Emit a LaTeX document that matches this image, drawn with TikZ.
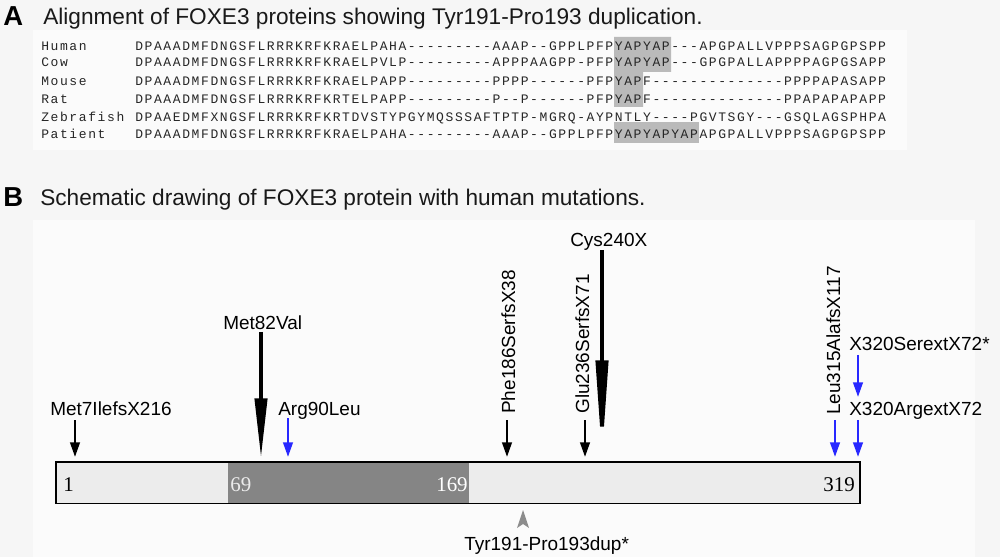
\documentclass[tikz,border=0pt]{standalone}
\usepackage{fontspec}
\setmainfont{Liberation Sans}
\newfontfamily\seqfont[LetterSpace=12.3]{Liberation Mono}
\newfontfamily\numfont{Liberation Serif}
\usetikzlibrary{arrows.meta}
\definecolor{pagebg}{RGB}{246,246,246}
\definecolor{panelbg}{RGB}{251,251,251}
\definecolor{mutblue}{RGB}{40,40,255}
\definecolor{bargray}{RGB}{236,236,236}
\definecolor{domgray}{RGB}{133,133,133}
\definecolor{hlgray}{RGB}{186,186,186}
\definecolor{tyrgray}{RGB}{140,140,140}

\begin{document}
\begin{tikzpicture}[x=0.025cm,y=-0.025cm,
        seqtext/.style={inner sep=0pt,anchor=base west,text=black!85,font=\seqfont\fontsize{9.25}{11}\selectfont},
        title/.style={inner sep=0pt,anchor=base west,text=black!90,font=\fontsize{16.1}{19}\selectfont},
        panel/.style={inner sep=0pt,anchor=base west,font=\bfseries\fontsize{19.5}{22}\selectfont},
        mutlabel/.style={inner sep=0pt,anchor=base west,font=\fontsize{13.5}{16}\selectfont},
        vlabel/.style={mutlabel,rotate=90},
        numlabel/.style={inner sep=0pt,font=\numfont\fontsize{14.9}{17}\selectfont},
        mut/.style={line width=2.1pt,shorten >=3.4pt,-{Triangle[length=10.5pt,width=6.6pt]}},
        bigmut/.style={line width=2.8pt,shorten >=2.6pt,-{Triangle[length=#1,width=8.6pt]}}
    ]
        \useasboundingbox (0,0) rectangle (1000,557);
        \fill[pagebg] (0,0) rectangle (1000,557);
        \fill[panelbg] (33,30) rectangle (907,150);
        \fill[panelbg] (33,220) rectangle (975,557);

        % A: alignment
        \node[panel] (pa) at (3,26) {A};
        \node[title] (ta) at (43,25) {Alignment of FOXE3 proteins showing Tyr191-Pro193 duplication.};
        \fill[hlgray] (614,37) -- (671,37) -- (671,72) -- (643,72) -- (643,107) -- (614,107) -- cycle;
        \fill[hlgray] (614,122) rectangle (699,143);
        \foreach \sp/\sq/\y [count=\i] in {
            Human/DPAAADMFDNGSFLRRRKRFKRAELPAHA---------AAAP--GPPLPFPYAPYAP---APGPALLVPPPSAGPGPSPP/50.3,
            Cow/DPAAADMFDNGSFLRRRKRFKRAELPVLP---------APPPAAGPP-PFPYAPYAP---GPGPALLAPPPPAGPGSAPP/66.3,
            Mouse/DPAAADMFDNGSFLRRRKRFKRAELPAPP---------PPPP------PFPYAPF--------------PPPPAPASAPP/85.3,
            Rat/DPAAADMFDNGSFLRRRKRFKRTELPAPP---------P--P------PFPYAPF--------------PPAPAPAPAPP/103.3,
            Zebrafish/DPAAEDMFXNGSFLRRRKRFKRTDVSTYPGYMQSSSAFTPTP-MGRQ-AYPNTLY----PGVTSGY---GSQLAGSPHPA/121.3,
            Patient/DPAAADMFDNGSFLRRRKRFKRAELPAHA---------AAAP--GPPLPFPYAPYAPYAPAPGPALLVPPPSAGPGPSPP/138.3}
        {
            \node[seqtext] (sp\i) at (41,\y) {\sp};
            \node[seqtext] (sq\i) at (135,\y) {\sq};
        }

        % B: protein scheme
        \node[panel] (pb) at (3,207) {B};
        \node[title] (tb) at (40,206) {Schematic drawing of FOXE3 protein with human mutations.};

        \node[fill=bargray,inner sep=0pt,minimum width=20.075cm,minimum height=1.025cm,anchor=north west] (bar) at (56,462) {};
        \fill[domgray] (228,462) rectangle (469,503);
        \draw[line width=1.2pt] (bar.north west) rectangle (bar.south east);
        \node[numlabel,anchor=base west] (n1) at (63,491) {1};
        \node[numlabel,anchor=base west,text=black!8] (n69) at (230,491) {69};
        \node[numlabel,anchor=base east,text=white] (n169) at (468,491) {169};
        \node[numlabel,anchor=base east] (n319) at (855,491) {319};

        \node[mutlabel] (m7) at (50,415) {Met7IlefsX216};
        \node[mutlabel] (m82) at (223,329) {Met82Val};
        \node[mutlabel] (r90) at (278,415) {Arg90Leu};
        \node[vlabel] (f186) at (515,414) {Phe186SerfsX38};
        \node[vlabel] (e236) at (589,414) {Glu236SerfsX71};
        \node[mutlabel] (c240) at (570,247) {Cys240X};
        \node[vlabel] (l315) at (840,415) {Leu315AlafsX117};
        \node[mutlabel] (x320s) at (849,350) {X320SerextX72*};
        \node[mutlabel] (x320r) at (849,415) {X320ArgextX72};
        \node[mutlabel] (tyr) at (464,550) {Tyr191-Pro193dup*};

        \coordinate (a7) at (75,420);
        \coordinate (a82) at (261,332);
        \coordinate (a90) at (288,418);
        \coordinate (a186) at (507,420);
        \coordinate (a236) at (585,420);
        \coordinate (a240) at (602,250);
        \coordinate (a315) at (835,420);
        \coordinate (a320s) at (858,355);
        \coordinate (a320) at (858,420);
        \coordinate (a191) at (523,510);

        \draw[mut] (a7) -- (a7 |- bar.north);
        \draw[bigmut=42.7pt] (a82) -- (a82 |- bar.north);
        \draw[mut,mutblue] (a90) -- (a90 |- bar.north);
        \draw[mut] (a186) -- (a186 |- bar.north);
        \draw[mut] (a236) -- (a236 |- bar.north);
        \draw[bigmut=69.7pt] (a240) -- (a240 |- bar.north);
        \draw[mut,mutblue] (a315) -- (a315 |- bar.north);
        \draw[mut,mutblue,shorten >=3pt] (a320s) -- (a320s |- x320r.north);
        \draw[mut,mutblue] (a320) -- (a320 |- bar.north);
        \fill[tyrgray] (a191) -- ++(6,18) -- ++(-6,-4) -- ++(-6,4) -- cycle;
    \end{tikzpicture}
\end{document}
